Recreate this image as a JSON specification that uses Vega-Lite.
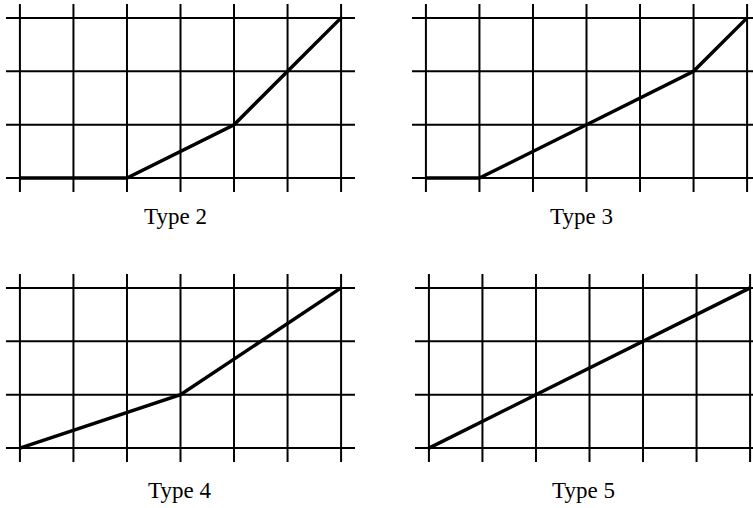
{
  "$schema": "https://vega.github.io/schema/vega-lite/v6.json",
  "background": "white",
  "padding": {"left": 5, "top": 3, "right": 0, "bottom": 0},
  "config": {
    "view": {"stroke": null},
    "title": {"font": "Liberation Serif", "fontSize": 23, "fontWeight": "normal", "color": "black", "orient": "bottom", "offset": 13, "anchor": "middle"}
  },
  "datasets": {
    "vgrid": [{"gx": 0}, {"gx": 1}, {"gx": 2}, {"gx": 3}, {"gx": 4}, {"gx": 5}, {"gx": 6}],
    "hgrid": [{"gy": 0}, {"gy": 1}, {"gy": 2}, {"gy": 3}],
    "curves": [
      {"type": "Type 2", "x": 0, "y": 0},
      {"type": "Type 2", "x": 2, "y": 0},
      {"type": "Type 2", "x": 4, "y": 1},
      {"type": "Type 2", "x": 5, "y": 2},
      {"type": "Type 2", "x": 6, "y": 3},
      {"type": "Type 3", "x": 0, "y": 0},
      {"type": "Type 3", "x": 1, "y": 0},
      {"type": "Type 3", "x": 3, "y": 1},
      {"type": "Type 3", "x": 5, "y": 2},
      {"type": "Type 3", "x": 6, "y": 3},
      {"type": "Type 4", "x": 0, "y": 0},
      {"type": "Type 4", "x": 3, "y": 1},
      {"type": "Type 4", "x": 6, "y": 3},
      {"type": "Type 5", "x": 0, "y": 0},
      {"type": "Type 5", "x": 6, "y": 3}
    ]
  },
  "spacing": 44,
  "vconcat": [
    {
      "spacing": 55,
      "hconcat": [
        {
          "width": 349, "height": 188,
          "title": {"text": "Type 2", "dx": -5},
          "layer": [
            {"data": {"name": "vgrid"}, "mark": {"type": "rule", "color": "black", "strokeWidth": 2},
             "encoding": {"x": {"field": "gx", "type": "quantitative", "scale": {"domain": [-0.26, 6.26], "nice": false, "zero": false}, "axis": null},
                          "y": {"datum": -0.26, "type": "quantitative", "scale": {"domain": [-0.26, 3.26], "nice": false, "zero": false}, "axis": null}, "y2": {"datum": 3.26}}},
            {"data": {"name": "hgrid"}, "mark": {"type": "rule", "color": "black", "strokeWidth": 2},
             "encoding": {"y": {"field": "gy", "type": "quantitative", "axis": null},
                          "x": {"datum": -0.26, "type": "quantitative", "axis": null}, "x2": {"datum": 6.26}}},
            {"data": {"name": "curves"}, "transform": [{"filter": "datum.type === 'Type 2'"}],
             "mark": {"type": "line", "color": "black", "strokeWidth": 3.5},
             "encoding": {"x": {"field": "x", "type": "quantitative", "axis": null}, "y": {"field": "y", "type": "quantitative", "axis": null}}}
          ]
        },
        {
          "width": 349, "height": 188,
          "title": {"text": "Type 3", "dx": -5},
          "layer": [
            {"data": {"name": "vgrid"}, "mark": {"type": "rule", "color": "black", "strokeWidth": 2},
             "encoding": {"x": {"field": "gx", "type": "quantitative", "scale": {"domain": [-0.26, 6.26], "nice": false, "zero": false}, "axis": null},
                          "y": {"datum": -0.26, "type": "quantitative", "scale": {"domain": [-0.26, 3.26], "nice": false, "zero": false}, "axis": null}, "y2": {"datum": 3.26}}},
            {"data": {"name": "hgrid"}, "mark": {"type": "rule", "color": "black", "strokeWidth": 2},
             "encoding": {"y": {"field": "gy", "type": "quantitative", "axis": null},
                          "x": {"datum": -0.26, "type": "quantitative", "axis": null}, "x2": {"datum": 6.26}}},
            {"data": {"name": "curves"}, "transform": [{"filter": "datum.type === 'Type 3'"}],
             "mark": {"type": "line", "color": "black", "strokeWidth": 3.5},
             "encoding": {"x": {"field": "x", "type": "quantitative", "axis": null}, "y": {"field": "y", "type": "quantitative", "axis": null}}}
          ]
        }
      ]
    },
    {
      "spacing": 58,
      "hconcat": [
        {
          "width": 349, "height": 188,
          "title": {"text": "Type 4", "dx": -1, "offset": 17},
          "layer": [
            {"data": {"name": "vgrid"}, "mark": {"type": "rule", "color": "black", "strokeWidth": 2},
             "encoding": {"x": {"field": "gx", "type": "quantitative", "scale": {"domain": [-0.26, 6.26], "nice": false, "zero": false}, "axis": null},
                          "y": {"datum": -0.26, "type": "quantitative", "scale": {"domain": [-0.26, 3.26], "nice": false, "zero": false}, "axis": null}, "y2": {"datum": 3.26}}},
            {"data": {"name": "hgrid"}, "mark": {"type": "rule", "color": "black", "strokeWidth": 2},
             "encoding": {"y": {"field": "gy", "type": "quantitative", "axis": null},
                          "x": {"datum": -0.26, "type": "quantitative", "axis": null}, "x2": {"datum": 6.26}}},
            {"data": {"name": "curves"}, "transform": [{"filter": "datum.type === 'Type 4'"}],
             "mark": {"type": "line", "color": "black", "strokeWidth": 3.5},
             "encoding": {"x": {"field": "x", "type": "quantitative", "axis": null}, "y": {"field": "y", "type": "quantitative", "axis": null}}}
          ]
        },
        {
          "width": 349, "height": 188,
          "title": {"text": "Type 5", "dx": -6, "offset": 17},
          "layer": [
            {"data": {"name": "vgrid"}, "mark": {"type": "rule", "color": "black", "strokeWidth": 2},
             "encoding": {"x": {"field": "gx", "type": "quantitative", "scale": {"domain": [-0.26, 6.26], "nice": false, "zero": false}, "axis": null},
                          "y": {"datum": -0.26, "type": "quantitative", "scale": {"domain": [-0.26, 3.26], "nice": false, "zero": false}, "axis": null}, "y2": {"datum": 3.26}}},
            {"data": {"name": "hgrid"}, "mark": {"type": "rule", "color": "black", "strokeWidth": 2},
             "encoding": {"y": {"field": "gy", "type": "quantitative", "axis": null},
                          "x": {"datum": -0.26, "type": "quantitative", "axis": null}, "x2": {"datum": 6.26}}},
            {"data": {"name": "curves"}, "transform": [{"filter": "datum.type === 'Type 5'"}],
             "mark": {"type": "line", "color": "black", "strokeWidth": 3.5},
             "encoding": {"x": {"field": "x", "type": "quantitative", "axis": null}, "y": {"field": "y", "type": "quantitative", "axis": null}}}
          ]
        }
      ]
    }
  ]
}
